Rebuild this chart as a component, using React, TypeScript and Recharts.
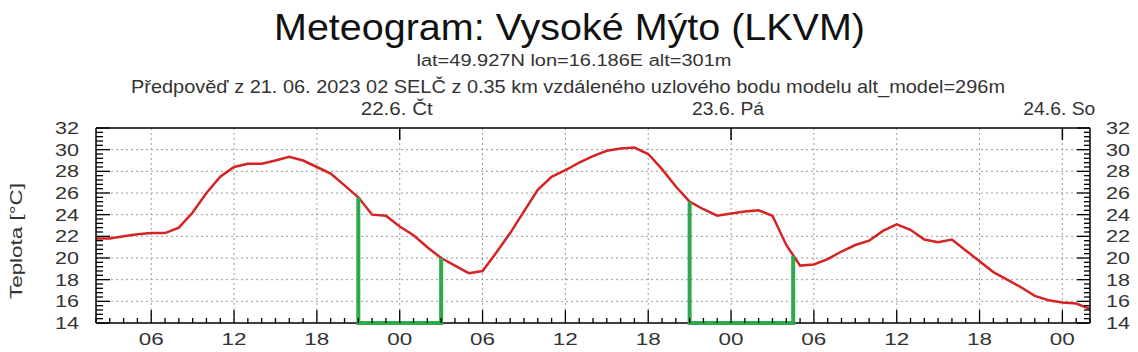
import { CartesianGrid, Line, LineChart, XAxis, YAxis } from 'recharts';

// hourly temperature [°C], starting 21.6. 02:00
const START_HOUR = 2;
const temperature = [
  21.8, 21.8, 22.0, 22.2, 22.3, 22.3, 22.8, 24.2, 26.0, 27.5, 28.4, 28.7,
  28.7, 29.0, 29.35, 29.0, 28.4, 27.8, 26.7, 25.6, 24.0, 23.9, 22.9, 22.1,
  21.0, 20.0, 19.3, 18.6, 18.8, 20.5, 22.3, 24.3, 26.3, 27.5, 28.1, 28.8,
  29.4, 29.9, 30.1, 30.2, 29.6, 28.2, 26.6, 25.2, 24.5, 23.9, 24.1, 24.3,
  24.4, 23.9, 21.2, 19.3, 19.4, 19.9, 20.6, 21.2, 21.6, 22.5, 23.1, 22.6,
  21.7, 21.45, 21.7, 20.7, 19.7, 18.7, 18.0, 17.3, 16.5, 16.1, 15.9, 15.8,
  15.3,
];

// night brackets (green)
const nightFrom = [21, 45];
const nightTo = [27, 52.5];
const nightFromTemp = [25.6, 25.2];
const nightToTemp = [20.0, 20.2];

const hourLabels = ['06', '12', '18', '00', '06', '12', '18', '00', '06', '12', '18', '00'];
const hourLabelPos = [6, 12, 18, 24, 30, 36, 42, 48, 54, 60, 66, 72];
const dayTicks = [24, 48, 72];
const dayLabels = ['22.6. Čt', '23.6. Pá', '24.6. So'];
const tempLabels = [14, 16, 18, 20, 22, 24, 26, 28, 30, 32];

const X_MIN = 2;
const X_MAX = 74;
const rows = temperature.map((t, i) => ({ h: START_HOUR + i, t }));

const brackets = nightFrom.map((from, i) => [
  { h: from, t: nightFromTemp[i] },
  { h: from, t: 14 },
  { h: nightTo[i], t: 14 },
  { h: nightTo[i], t: nightToTemp[i] },
]);

const hourTicks: number[] = [];
for (let h = X_MIN; h <= X_MAX; h++) hourTicks.push(h);
const tempTicks: number[] = [];
for (let i = 0; i <= 45; i++) tempTicks.push(Math.round((14 + i * 0.4) * 10) / 10);

const FONT = 'Liberation Sans, Arial, sans-serif';
const isEven = (v: number) => Math.abs(v / 2 - Math.round(v / 2)) < 1e-6;

function LeftTick({ x, y, payload }: any) {
  const major = isEven(payload.value);
  return (
    <g>
      <line x1={x} x2={x + (major ? 14 : 7)} y1={y} y2={y} stroke="#000" strokeWidth={1.3} />
      {major && (
        <text x={x - 17} y={y + 6} textAnchor="end" fontSize={17} fill="#333"
          textLength={24} lengthAdjust="spacingAndGlyphs">{payload.value}</text>
      )}
    </g>
  );
}

function RightTick({ x, y, payload }: any) {
  const major = isEven(payload.value);
  return (
    <g>
      <line x1={x} x2={x - (major ? 13 : 6)} y1={y} y2={y} stroke="#000" strokeWidth={1.3} />
      {major && (
        <text x={x + 16} y={y + 6} textAnchor="start" fontSize={17} fill="#333"
          textLength={24} lengthAdjust="spacingAndGlyphs">{payload.value}</text>
      )}
    </g>
  );
}

function BottomTick({ x, y, payload }: any) {
  const idx = hourLabelPos.indexOf(payload.value);
  const major = idx >= 0;
  return (
    <g>
      <line x1={x} x2={x} y1={y} y2={y - (major ? 13 : 5)} stroke="#000" strokeWidth={1.3} />
      {major && (
        <text x={x} y={y + 22} textAnchor="middle" fontSize={17} fill="#333"
          textLength={25} lengthAdjust="spacingAndGlyphs">{hourLabels[idx]}</text>
      )}
    </g>
  );
}

function TopTick({ x, y, payload }: any) {
  const idx = dayTicks.indexOf(payload.value);
  return (
    <g>
      <line x1={x} x2={x} y1={y} y2={y + 12} stroke="#000" strokeWidth={1.5} />
      <text x={x - 3} y={y - 13.5} textAnchor="middle" fontSize={17.5} fill="#333"
        textLength={72} lengthAdjust="spacingAndGlyphs">{dayLabels[idx]}</text>
    </g>
  );
}

export default function App() {
  return (
    <div style={{ position: 'absolute', left: 0, top: 0, width: 1138, height: 352, background: '#fff', fontFamily: FONT }}>
      <LineChart width={1138} height={352} data={rows} margin={{ top: 0, right: 0, bottom: 0, left: 0 }}>
        <CartesianGrid
          stroke="#9a9a9a"
          strokeDasharray="2 3"
          horizontalValues={tempLabels.slice(1, -1)}
          verticalValues={hourLabelPos}
        />
        <XAxis
          dataKey="h"
          type="number"
          domain={[X_MIN, X_MAX]}
          ticks={hourTicks}
          interval={0}
          height={29}
          tickSize={0}
          tickMargin={0}
          axisLine={{ stroke: '#000', strokeWidth: 1.5 }}
          tick={<BottomTick />}
        />
        <XAxis
          xAxisId="top"
          orientation="top"
          dataKey="h"
          type="number"
          domain={[X_MIN, X_MAX]}
          ticks={dayTicks}
          interval={0}
          height={128}
          tickSize={0}
          tickMargin={0}
          axisLine={{ stroke: '#000', strokeWidth: 1.5 }}
          tick={<TopTick />}
          allowDataOverflow
        />
        <YAxis
          type="number"
          domain={[14, 32]}
          ticks={tempTicks}
          interval={0}
          width={96}
          tickSize={0}
          tickMargin={0}
          axisLine={{ stroke: '#000', strokeWidth: 1.5 }}
          tick={<LeftTick />}
        />
        <YAxis
          yAxisId="right"
          orientation="right"
          type="number"
          domain={[14, 32]}
          ticks={tempTicks}
          interval={0}
          width={48}
          tickSize={0}
          tickMargin={0}
          axisLine={{ stroke: '#000', strokeWidth: 1.5 }}
          tick={<RightTick />}
          allowDataOverflow
        />
        <Line
          dataKey="t"
          type="linear"
          stroke="#d42424"
          strokeWidth={2.5}
          dot={false}
          isAnimationActive={false}
        />
        {brackets.map((b, i) => (
          <Line
            key={i}
            data={b}
            dataKey="t"
            type="linear"
            stroke="#2eaa4c"
            strokeWidth={4}
            dot={false}
            isAnimationActive={false}
            {...({ zIndex: 700 } as any)}
          />
        ))}
      </LineChart>
      <svg width={1138} height={352} style={{ position: 'absolute', left: 0, top: 0, pointerEvents: 'none' }}>
        <g fontFamily={FONT} fill="#111">
          <text x={569.5} y={39.5} textAnchor="middle" fontSize={36}
            textLength={591} lengthAdjust="spacingAndGlyphs">Meteogram: Vysoké Mýto (LKVM)</text>
          <text x={574} y={65.7} textAnchor="middle" fontSize={16.3} fill="#333"
            textLength={315} lengthAdjust="spacingAndGlyphs">lat=49.927N lon=16.186E alt=301m</text>
          <text x={568} y={92.5} textAnchor="middle" fontSize={18.5} fill="#333"
            textLength={874} lengthAdjust="spacingAndGlyphs">Předpověď z 21. 06. 2023 02 SELČ z 0.35 km vzdáleného uzlového bodu modelu alt_model=296m</text>
          <text transform="translate(22, 241) rotate(-90)" textAnchor="middle" fontSize={17} fill="#333"
            textLength={116} lengthAdjust="spacingAndGlyphs">Teplota [°C]</text>
        </g>
      </svg>
    </div>
  );
}
